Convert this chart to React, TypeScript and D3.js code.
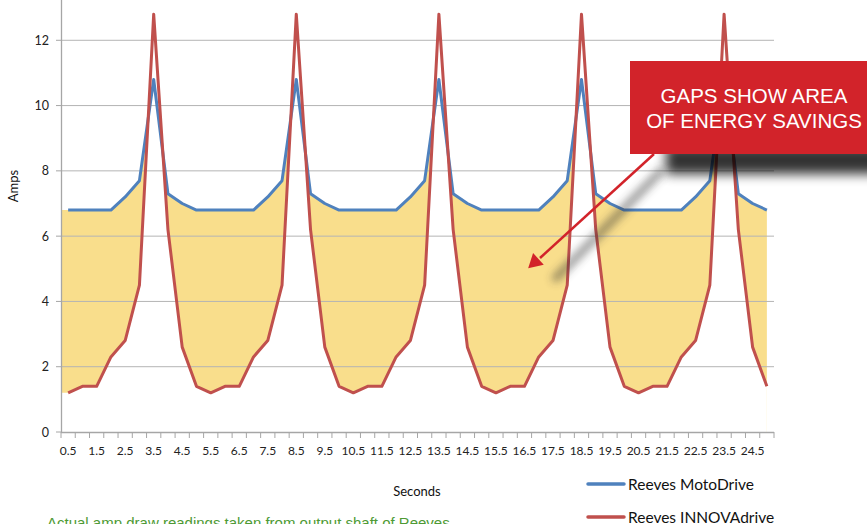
import React, { useRef, useEffect } from 'react';
import * as d3 from 'd3';

// readings every half second
const seconds = [
  0.5, 1.0, 1.5, 2.0, 2.5, 3.0, 3.5, 4.0, 4.5, 5.0,
  5.5, 6.0, 6.5, 7.0, 7.5, 8.0, 8.5, 9.0, 9.5, 10.0,
  10.5, 11.0, 11.5, 12.0, 12.5, 13.0, 13.5, 14.0, 14.5, 15.0,
  15.5, 16.0, 16.5, 17.0, 17.5, 18.0, 18.5, 19.0, 19.5, 20.0,
  20.5, 21.0, 21.5, 22.0, 22.5, 23.0, 23.5, 24.0, 24.5, 25.0,
];

const motoDrive = [
  6.8, 6.8, 6.8, 6.8, 7.2, 7.7, 10.8, 7.3, 7.0, 6.8,
  6.8, 6.8, 6.8, 6.8, 7.2, 7.7, 10.8, 7.3, 7.0, 6.8,
  6.8, 6.8, 6.8, 6.8, 7.2, 7.7, 10.8, 7.3, 7.0, 6.8,
  6.8, 6.8, 6.8, 6.8, 7.2, 7.7, 10.8, 7.3, 7.0, 6.8,
  6.8, 6.8, 6.8, 6.8, 7.2, 7.7, 10.8, 7.3, 7.0, 6.8,
];

const innovaDrive = [
  1.2, 1.4, 1.4, 2.3, 2.8, 4.5, 12.8, 6.2, 2.6, 1.4,
  1.2, 1.4, 1.4, 2.3, 2.8, 4.5, 12.8, 6.2, 2.6, 1.4,
  1.2, 1.4, 1.4, 2.3, 2.8, 4.5, 12.8, 6.2, 2.6, 1.4,
  1.2, 1.4, 1.4, 2.3, 2.8, 4.5, 12.8, 6.2, 2.6, 1.4,
  1.2, 1.4, 1.4, 2.3, 2.8, 4.5, 12.8, 6.2, 2.6, 1.4,
];

const yTicks = [0, 2, 4, 6, 8, 10, 12];
const seriesNames = ['Reeves MotoDrive', 'Reeves INNOVAdrive'];
const seriesColors = ['#4F81BD', '#C0504D'];

const W = 867;
const H = 524;
const tickFont = 'Lato, "Open Sans", sans-serif';
const sansFont = '"Liberation Sans", Arial, sans-serif';

interface Pt { x: number; hi: number; lo: number; }

const App: React.FC = () => {
  const svgRef = useRef<SVGSVGElement>(null);

  useEffect(() => {
    if (!svgRef.current) return;
    const svg = d3.select(svgRef.current);
    svg.selectAll('*').remove();

    const left = 61, right = 774, bottom = 432;

    const x = d3.scaleBand<number>()
      .domain(seconds)
      .range([left, right]);
    const cx = (s: number) => x(s)! + x.bandwidth() / 2;

    const y = d3.scaleLinear()
      .domain([0, 14])
      .range([bottom, -25]);

    const defs = svg.append('defs');
    defs.append('filter').attr('id', 'blur6')
      .attr('x', '-50%').attr('y', '-50%').attr('width', '200%').attr('height', '200%')
      .append('feGaussianBlur').attr('stdDeviation', 6);
    defs.append('filter').attr('id', 'blur4')
      .attr('x', '-50%').attr('y', '-50%').attr('width', '200%').attr('height', '200%')
      .append('feGaussianBlur').attr('stdDeviation', 4);

    // Gap fill: yellow under MotoDrive, white under INNOVAdrive
    const pts: Pt[] = [
      { x: left, hi: motoDrive[0], lo: innovaDrive[0] },
      ...seconds.map((s, i) => ({ x: cx(s), hi: motoDrive[i], lo: innovaDrive[i] })),
    ];

    svg.append('path')
      .datum(pts)
      .attr('fill', '#F9DE8C')
      .attr('d', d3.area<Pt>().x(d => d.x).y0(y(0)).y1(d => y(d.hi)));

    svg.append('path')
      .datum(pts)
      .attr('fill', '#ffffff')
      .attr('d', d3.area<Pt>().x(d => d.x).y0(y(0)).y1(d => y(d.lo)));

    // Grid
    svg.append('g')
      .selectAll('line')
      .data(yTicks.filter(t => t > 0))
      .enter()
      .append('line')
      .attr('x1', left).attr('x2', right)
      .attr('y1', d => y(d)).attr('y2', d => y(d))
      .attr('stroke', '#B4B4B4')
      .attr('stroke-width', 1);

    // Axes
    const axisColor = '#A6A6A6';
    svg.append('line')
      .attr('x1', left + 0.5).attr('x2', left + 0.5)
      .attr('y1', 0).attr('y2', bottom)
      .attr('stroke', axisColor).attr('stroke-width', 1.3);

    svg.append('g')
      .selectAll('line')
      .data(yTicks)
      .enter()
      .append('line')
      .attr('x1', left - 5).attr('x2', left)
      .attr('y1', d => y(d)).attr('y2', d => y(d))
      .attr('stroke', axisColor);

    svg.append('g')
      .selectAll('text')
      .data(yTicks)
      .enter()
      .append('text')
      .attr('x', 49)
      .attr('y', d => y(d) + 4.5)
      .attr('text-anchor', 'end')
      .attr('font-family', tickFont)
      .attr('font-size', 12.5)
      .attr('fill', '#222')
      .text(d => d);

    svg.append('line')
      .attr('x1', left).attr('x2', right)
      .attr('y1', bottom + 0.5).attr('y2', bottom + 0.5)
      .attr('stroke', axisColor).attr('stroke-width', 1.3);

    const boundaries = [...seconds.map(s => x(s)!), right];
    svg.append('g')
      .selectAll('line')
      .data(boundaries)
      .enter()
      .append('line')
      .attr('x1', d => d).attr('x2', d => d)
      .attr('y1', bottom).attr('y2', bottom + 6)
      .attr('stroke', axisColor);

    svg.append('g')
      .selectAll('text')
      .data(seconds.filter(s => s % 1 === 0.5))
      .enter()
      .append('text')
      .attr('x', d => cx(d))
      .attr('y', 455)
      .attr('text-anchor', 'middle')
      .attr('font-family', tickFont)
      .attr('font-size', 12)
      .attr('fill', '#222')
      .text(d => d.toFixed(1));

    svg.append('text')
      .attr('x', 417).attr('y', 496)
      .attr('text-anchor', 'middle')
      .attr('font-family', tickFont)
      .attr('font-size', 13)
      .attr('fill', '#111')
      .text('Seconds');

    svg.append('text')
      .attr('transform', 'translate(18,186) rotate(-90)')
      .attr('text-anchor', 'middle')
      .attr('font-family', tickFont)
      .attr('font-size', 13)
      .attr('fill', '#111')
      .text('Amps');

    // Series lines
    [motoDrive, innovaDrive].forEach((vals, k) => {
      svg.append('path')
        .datum(vals)
        .attr('fill', 'none')
        .attr('stroke', seriesColors[k])
        .attr('stroke-width', 3)
        .attr('stroke-linejoin', 'round')
        .attr('d', d3.line<number>().x((_, i) => cx(seconds[i])).y(d => y(d)));
    });

    // Legend
    seriesNames.forEach((name, k) => {
      const ly = 484 + k * 33;
      svg.append('line')
        .attr('x1', 588).attr('x2', 624)
        .attr('y1', ly).attr('y2', ly)
        .attr('stroke', seriesColors[k])
        .attr('stroke-width', 3.5)
        .attr('stroke-linecap', 'round');
      svg.append('text')
        .attr('x', 628).attr('y', ly + 5.5)
        .attr('font-family', tickFont)
        .attr('font-size', 15.5)
        .attr('fill', '#111')
        .text(name);
    });

    // Footnote (runs off the bottom edge, as in the source slide)
    svg.append('text')
      .attr('x', 47).attr('y', 528)
      .attr('font-family', sansFont)
      .attr('font-size', 15)
      .attr('fill', '#4E9A34')
      .text('Actual amp draw readings taken from output shaft of Reeves');

    // Callout shadows
    svg.append('rect')
      .attr('x', 666).attr('y', 146)
      .attr('width', 222).attr('height', 28)
      .attr('fill', '#000')
      .attr('opacity', 0.8)
      .attr('filter', 'url(#blur6)');

    svg.append('line')
      .attr('x1', 660).attr('y1', 172).attr('x2', 556).attr('y2', 278)
      .attr('stroke', '#333')
      .attr('stroke-width', 8)
      .attr('stroke-linecap', 'round')
      .attr('opacity', 0.5)
      .attr('filter', 'url(#blur4)');

    // Callout arrow
    const calloutRed = '#D2232A';
    svg.append('line')
      .attr('x1', 654).attr('y1', 154).attr('x2', 540).attr('y2', 258)
      .attr('stroke', calloutRed)
      .attr('stroke-width', 2.5);
    svg.append('path')
      .attr('d', d3.symbol().type(d3.symbolTriangle).size(110)())
      .attr('transform', 'translate(535,262) rotate(-132)')
      .attr('fill', calloutRed);

    // Callout box
    svg.append('rect')
      .attr('x', 630).attr('y', 61)
      .attr('width', 240).attr('height', 93)
      .attr('fill', calloutRed);

    ['GAPS SHOW AREA', 'OF ENERGY SAVINGS'].forEach((t, i) => {
      svg.append('text')
        .attr('x', 754).attr('y', 103 + i * 25)
        .attr('text-anchor', 'middle')
        .attr('font-family', sansFont)
        .attr('font-size', 20.5)
        .attr('fill', '#ffffff')
        .text(t);
    });
  }, []);

  return (
    <svg
      ref={svgRef}
      width={W}
      height={H}
      style={{ position: 'fixed', left: 0, top: 0, background: '#fff' }}
    />
  );
};

export default App;
